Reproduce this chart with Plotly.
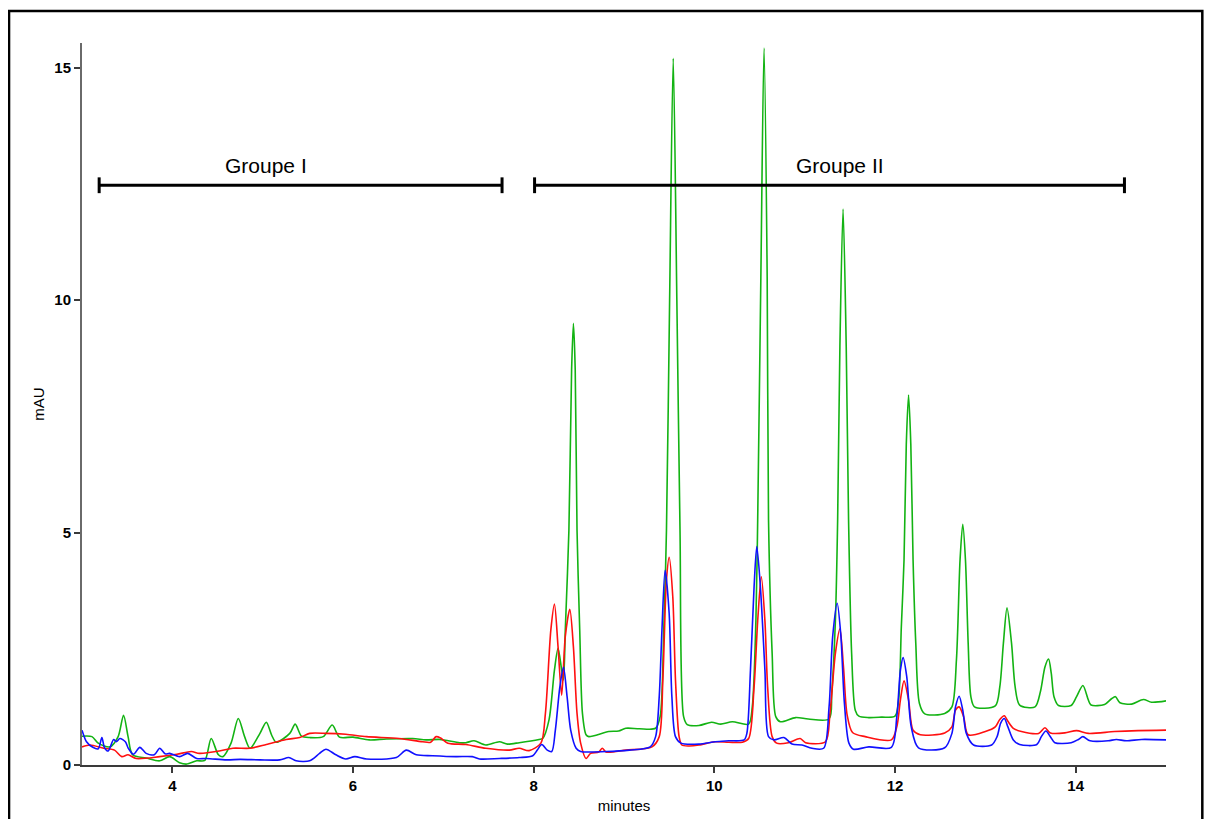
import plotly.graph_objects as go

# ---------------- data ----------------
green_t = [3.00, 3.11, 3.18, 3.31, 3.40, 3.46, 3.51, 3.56, 3.71, 3.86, 3.97, 4.08, 4.16, 4.27, 4.36,
           4.43, 4.51, 4.56, 4.65, 4.73, 4.80, 4.86, 4.97, 5.04, 5.10, 5.15, 5.30, 5.36, 5.43, 5.52,
           5.67, 5.77, 5.85, 6.00, 6.18, 6.37, 6.66, 6.81, 6.96, 7.18, 7.25, 7.34, 7.47, 7.62, 7.71,
           7.84, 8.06, 8.10, 8.17, 8.23, 8.27, 8.31, 8.33, 8.35, 8.39, 8.42, 8.44, 8.46, 8.48, 8.51,
           8.54, 8.58, 8.61, 8.83, 8.94, 9.02, 9.17, 9.35, 9.40, 9.44, 9.47, 9.505, 9.545, 9.585, 9.62,
           9.66, 9.70, 9.83, 9.97, 10.07, 10.20, 10.38, 10.42, 10.46, 10.48, 10.515, 10.55, 10.585, 10.60,
           10.64, 10.68, 10.73, 10.90, 11.04, 11.27, 11.30, 11.34, 11.365, 11.39, 11.425, 11.46, 11.486,
           11.52, 11.56, 11.60, 11.71, 11.85, 12.00, 12.04, 12.07, 12.10, 12.125, 12.15, 12.175, 12.20,
           12.23, 12.27, 12.33, 12.55, 12.63, 12.68, 12.72, 12.75, 12.78, 12.81, 12.84, 12.88, 13.11,
           13.16, 13.20, 13.24, 13.29, 13.33, 13.38, 13.55, 13.61, 13.66, 13.70, 13.73, 13.76, 13.81,
           13.95, 14.01, 14.08, 14.14, 14.17, 14.32, 14.40, 14.44, 14.49, 14.62, 14.75, 14.84, 15.00]
green_v = [0.62, 0.61, 0.47, 0.39, 0.61, 1.07, 0.61, 0.22, 0.15, 0.09, 0.18, 0.05, 0.02, 0.09, 0.10,
           0.57, 0.22, 0.18, 0.47, 1.00, 0.61, 0.36, 0.68, 0.92, 0.64, 0.49, 0.68, 0.88, 0.62, 0.59,
           0.61, 0.86, 0.60, 0.60, 0.54, 0.56, 0.57, 0.54, 0.55, 0.48, 0.48, 0.52, 0.43, 0.50, 0.45,
           0.48, 0.55, 0.57, 0.97, 2.04, 2.51, 2.04, 1.83, 2.90, 5.05, 8.50, 9.50, 8.50, 5.05, 2.90,
           1.11, 0.65, 0.61, 0.72, 0.73, 0.79, 0.78, 0.79, 1.04, 2.90, 5.05, 10.0, 15.20, 10.0, 5.05,
           1.04, 0.87, 0.85, 0.92, 0.88, 0.93, 0.88, 1.25, 3.10, 5.27, 10.5, 15.42, 10.5, 5.27,
           2.40, 1.04, 0.93, 1.02, 0.99, 0.99, 1.55, 3.10, 5.27, 9.00, 11.96, 9.00, 5.27,
           2.40, 1.18, 1.05, 1.02, 1.03, 1.05, 1.40, 2.97, 4.41, 6.90, 7.96, 6.90, 4.41,
           2.62, 1.33, 1.10, 1.11, 1.25, 2.26, 4.41, 5.18, 4.41, 2.62, 1.47, 1.25, 1.27,
           1.68, 2.62, 3.38, 2.62, 1.68, 1.29, 1.25, 1.58, 2.11, 2.28, 1.97, 1.47, 1.28,
           1.28, 1.47, 1.71, 1.40, 1.29, 1.30, 1.43, 1.47, 1.34, 1.31, 1.41, 1.35, 1.38]

red_t = [3.00, 3.09, 3.24, 3.36, 3.44, 3.51, 3.60, 3.86, 4.05, 4.21, 4.30, 4.52, 4.67, 4.86, 5.04,
         5.26, 5.41, 5.52, 5.70, 5.92, 6.15, 6.51, 6.77, 6.86, 6.92, 6.97, 7.05, 7.25, 7.47, 7.73,
         7.84, 7.95, 8.08, 8.13, 8.19, 8.23, 8.27, 8.31, 8.35, 8.40, 8.44, 8.48, 8.52, 8.58, 8.63,
         8.72, 8.76, 8.80, 9.02, 9.31, 9.39, 9.43, 9.47, 9.50, 9.54, 9.57, 9.61, 9.64, 9.72, 9.83,
         10.01, 10.16, 10.31, 10.38, 10.44, 10.48, 10.52, 10.56, 10.59, 10.64, 10.69, 10.82, 10.95,
         11.01, 11.23, 11.28, 11.34, 11.39, 11.43, 11.47, 11.53, 11.67, 11.96, 12.02, 12.06, 12.10,
         12.15, 12.20, 12.28, 12.55, 12.63, 12.67, 12.71, 12.76, 12.81, 13.00, 13.11, 13.16, 13.21,
         13.25, 13.31, 13.40, 13.59, 13.66, 13.72, 13.88, 14.01, 14.14, 14.43, 14.69, 15.00]
red_v = [0.39, 0.43, 0.36, 0.32, 0.18, 0.22, 0.14, 0.18, 0.23, 0.29, 0.25, 0.30, 0.36, 0.36, 0.44,
         0.55, 0.59, 0.68, 0.68, 0.66, 0.61, 0.57, 0.50, 0.49, 0.61, 0.58, 0.47, 0.44, 0.36, 0.32,
         0.36, 0.31, 0.47, 1.11, 2.90, 3.46, 2.54, 1.50, 2.76, 3.35, 2.54, 1.11, 0.47, 0.14, 0.25,
         0.28, 0.36, 0.28, 0.32, 0.39, 0.61, 1.83, 3.98, 4.47, 3.62, 1.83, 0.61, 0.43, 0.41, 0.43,
         0.50, 0.49, 0.49, 0.57, 1.68, 3.10, 4.05, 3.10, 1.68, 0.61, 0.47, 0.48, 0.57,
         0.48, 0.50, 1.11, 2.40, 2.93, 2.10, 1.08, 0.70, 0.61, 0.54, 0.82, 1.40, 1.81,
         1.40, 0.75, 0.65, 0.69, 0.82, 1.18, 1.25, 1.04, 0.65, 0.72, 0.82, 0.98, 1.06,
         0.94, 0.79, 0.72, 0.68, 0.80, 0.69, 0.69, 0.74, 0.68, 0.72, 0.74, 0.75]

blue_t = [3.00, 3.05, 3.12, 3.18, 3.22, 3.25, 3.29, 3.35, 3.38, 3.42, 3.48, 3.51, 3.57, 3.64, 3.71,
          3.80, 3.86, 3.92, 3.97, 4.08, 4.17, 4.27, 4.38, 4.60, 4.75, 4.97, 5.19, 5.29, 5.37, 5.52,
          5.63, 5.70, 5.81, 5.92, 6.02, 6.15, 6.48, 6.59, 6.70, 6.88, 7.14, 7.32, 7.40, 7.62, 7.84,
          7.99, 8.04, 8.09, 8.15, 8.20, 8.24, 8.29, 8.33, 8.37, 8.41, 8.47, 8.52, 8.80, 9.06, 9.29,
          9.35, 9.39, 9.42, 9.455, 9.50, 9.53, 9.57, 9.63, 9.83, 10.01, 10.16, 10.33, 10.36, 10.40,
          10.44, 10.47, 10.51, 10.56, 10.60, 10.66, 10.77, 10.86, 10.97, 11.08, 11.21, 11.27, 11.31,
          11.36, 11.40, 11.44, 11.49, 11.54, 11.71, 11.96, 12.02, 12.06, 12.09, 12.13, 12.18, 12.26,
          12.55, 12.63, 12.67, 12.71, 12.75, 12.79, 12.87, 13.07, 13.13, 13.17, 13.21, 13.25, 13.31,
          13.38, 13.57, 13.62, 13.67, 13.72, 13.77, 13.95, 14.03, 14.08, 14.16, 14.36, 14.45, 14.56,
          14.73, 15.00]
blue_v = [0.75, 0.50, 0.38, 0.35, 0.59, 0.37, 0.30, 0.55, 0.50, 0.57, 0.50, 0.37, 0.23, 0.38, 0.25,
          0.22, 0.36, 0.24, 0.25, 0.18, 0.25, 0.14, 0.14, 0.11, 0.12, 0.11, 0.11, 0.16, 0.09, 0.09,
          0.25, 0.34, 0.22, 0.13, 0.18, 0.13, 0.16, 0.32, 0.22, 0.20, 0.18, 0.18, 0.13, 0.14, 0.16,
          0.20, 0.32, 0.44, 0.32, 0.29, 0.75, 1.68, 2.10, 1.47, 0.75, 0.36, 0.29, 0.29, 0.32, 0.39,
          0.61, 1.47, 2.90, 4.19, 3.26, 1.47, 0.61, 0.47, 0.45, 0.50, 0.52, 0.54, 0.68, 2.04,
          3.83, 4.70, 3.83, 2.04, 0.61, 0.54, 0.59, 0.45, 0.43, 0.36, 0.36, 1.25, 2.76,
          3.48, 2.80, 1.33, 0.47, 0.34, 0.39, 0.38, 1.04, 2.04, 2.31, 1.90, 0.82, 0.37,
          0.37, 0.68, 1.25, 1.48, 1.18, 0.68, 0.43, 0.43, 0.61, 0.90, 1.00, 0.82, 0.54,
          0.44, 0.44, 0.61, 0.73, 0.61, 0.48, 0.48, 0.55, 0.61, 0.52, 0.52, 0.55, 0.52,
          0.55, 0.54]

group_labels = ["Groupe I", "Groupe II"]
group_start = [3.19, 8.01]
group_end = [7.65, 14.54]
group_level = 12.47
label_x = [5.04, 11.39]
label_level = 12.90

x_ticks = [4, 6, 8, 10, 12, 14]
y_ticks = [0, 5, 10, 15]

# ---------------- figure ----------------
fig = go.Figure()
for t, v, col in [(green_t, green_v, "#13b313"), (red_t, red_v, "#ff1010"), (blue_t, blue_v, "#1010ff")]:
    fig.add_trace(go.Scatter(x=t, y=v, mode="lines",
                             line=dict(color=col, width=1.6, shape="spline", smoothing=0.8),
                             hoverinfo="skip", showlegend=False))

cap = 0.17
for lab, x0, x1, lx in zip(group_labels, group_start, group_end, label_x):
    fig.add_shape(type="line", xref="x", yref="y", x0=x0, x1=x1, y0=group_level, y1=group_level,
                  line=dict(color="black", width=3))
    for xe in (x0, x1):
        fig.add_shape(type="line", xref="x", yref="y", x0=xe, x1=xe,
                      y0=group_level - cap, y1=group_level + cap,
                      line=dict(color="black", width=3))
    fig.add_annotation(x=lx, y=label_level, xref="x", yref="y", text=lab, showarrow=False,
                       font=dict(family="Liberation Sans, Arial", size=21, color="black"))

# outer frame
fig.add_shape(type="rect", xref="paper", yref="paper",
              x0=-0.0673, x1=1.0335, y0=-0.15, y1=1.0443,
              line=dict(color="black", width=2.5), fillcolor="rgba(0,0,0,0)")

fig.update_layout(
    width=1196, height=811,
    margin=dict(l=74, r=38, t=35, b=54),
    paper_bgcolor="white", plot_bgcolor="white",
    font=dict(family="Liberation Sans, Arial", color="black"),
    xaxis=dict(range=[3, 15], tickvals=x_ticks, ticktext=[str(v) for v in x_ticks],
               automargin=False,
               showgrid=False, zeroline=False, showline=True, linecolor="#3a3a3a", linewidth=2,
               ticks="outside", ticklen=6, tickwidth=1.5, tickcolor="#3a3a3a",
               tickfont=dict(size=15, family="Liberation Sans, Arial", weight="bold"),
               title=dict(text="minutes", font=dict(size=15), standoff=7)),
    yaxis=dict(range=[0, 15.53], tickvals=y_ticks, ticktext=[str(v) for v in y_ticks],
               automargin=False,
               showgrid=False, zeroline=False, showline=True, linecolor="#6a6a6a", linewidth=2,
               ticks="outside", ticklen=6, tickwidth=1.5, tickcolor="#3a3a3a",
               tickfont=dict(size=15, family="Liberation Sans, Arial", weight="bold"),
               title=dict(text="mAU", font=dict(size=15), standoff=6)),
)

fig.write_html("out.html")
